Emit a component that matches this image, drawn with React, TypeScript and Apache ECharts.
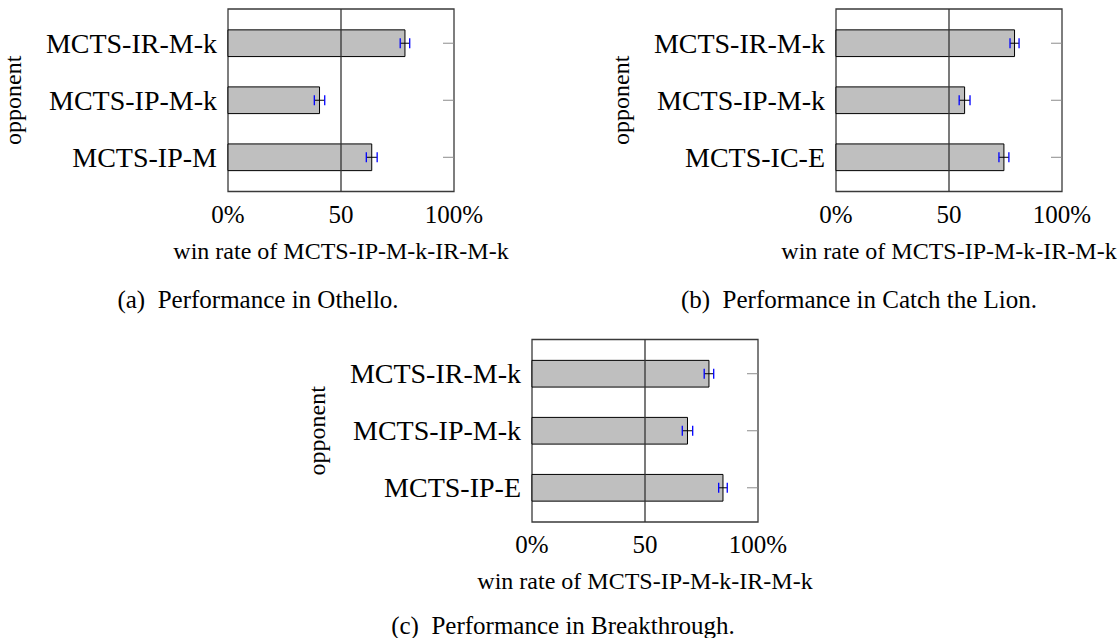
import React, { useEffect, useRef } from "react";
import * as echarts from "echarts";

// ---- data ----
const othelloOpponents = ["MCTS-IR-M-k", "MCTS-IP-M-k", "MCTS-IP-M"];
const othelloWinRate = [78.3, 40.5, 63.6];
const othelloError = [2.1, 2.3, 2.4];

const lionOpponents = ["MCTS-IR-M-k", "MCTS-IP-M-k", "MCTS-IC-E"];
const lionWinRate = [79.0, 56.9, 74.3];
const lionError = [2.0, 2.4, 2.2];

const breakOpponents = ["MCTS-IR-M-k", "MCTS-IP-M-k", "MCTS-IP-E"];
const breakWinRate = [78.3, 68.8, 84.5];
const breakError = [2.1, 2.3, 1.9];

const xTickLabels = ["0%", "50", "100%"];
const xAxisTitle = "win rate of MCTS-IP-M-k-IR-M-k";
const yAxisTitle = "opponent";
const captions = [
  "(a)\u00a0\u00a0Performance in Othello.",
  "(b)\u00a0\u00a0Performance in Catch the Lion.",
  "(c)\u00a0\u00a0Performance in Breakthrough.",
];
const thresholdValue = [50];

const FONT = "Liberation Serif";

export default function App() {
  const ref = useRef<HTMLDivElement>(null);

  useEffect(() => {
    if (!ref.current) return;
    const chart = echarts.init(ref.current, undefined, { renderer: "svg" });

    const panels = [
      { cats: othelloOpponents, vals: othelloWinRate, errs: othelloError, grid: { left: 228, top: 9, width: 226, height: 182.5 }, cap: { x: 258, y: 299 } },
      { cats: lionOpponents, vals: lionWinRate, errs: lionError, grid: { left: 836, top: 9, width: 226, height: 182.5 }, cap: { x: 859, y: 299 } },
      { cats: breakOpponents, vals: breakWinRate, errs: breakError, grid: { left: 532, top: 339.5, width: 226, height: 182.5 }, cap: { x: 563, y: 625 } },
    ];

    const barH = 0.468;

    const grids: any[] = [];
    const xAxes: any[] = [];
    const yAxes: any[] = [];
    const series: any[] = [];

    panels.forEach((p, gi) => {
      grids.push({
        ...p.grid,
        show: true,
        borderColor: "#3a3a3a",
        borderWidth: 1.3,
        backgroundColor: "transparent",
        containLabel: false,
      });
      xAxes.push({
        type: "value",
        gridIndex: gi,
        min: 0,
        max: 100,
        interval: 50,
        axisLine: { show: false },
        axisTick: { show: false },
        splitLine: { show: false },
        axisLabel: {
          margin: 10,
          fontSize: 25,
          fontFamily: FONT,
          color: "#000",
          formatter: (v: number) => xTickLabels[Math.round(v / 50)] ?? "",
        },
        name: xAxisTitle,
        nameLocation: "middle",
        nameGap: 47,
        nameTextStyle: { fontSize: 24, fontFamily: FONT, color: "#000" },
      });
      const cats = p.cats;
      yAxes.push({
        type: "value",
        gridIndex: gi,
        min: -0.6,
        max: 2.6,
        interval: 0.2,
        inverse: true,
        axisLine: { show: false },
        axisTick: { show: false },
        splitLine: { show: false },
        axisLabel: {
          margin: 11,
          fontSize: 28,
          fontFamily: FONT,
          color: "#000",
          formatter: (v: number) => {
            const r = Math.round(v);
            if (Math.abs(v - r) < 1e-6 && r >= 0 && r < cats.length) return cats[r];
            return "";
          },
        },
        name: yAxisTitle,
        nameLocation: "middle",
        nameRotate: 90,
        nameGap: 203,
        nameTextStyle: { fontSize: 24, fontFamily: FONT, color: "#000" },
      });
      series.push({
        type: "custom",
        xAxisIndex: gi,
        yAxisIndex: gi,
        z: 2,
        encode: { x: 0, y: 1 },
        data: p.vals.map((v, i) => [v, i, p.errs[i]]),
        renderItem: (params: any, api: any) => {
          const v = api.value(0);
          const i = api.value(1);
          const e = api.value(2);
          const s = api.coord([0, i]);
          const en = api.coord([v, i]);
          const h = api.size([0, barH])[1];
          const lo = api.coord([v - e, i]);
          const hi = api.coord([v + e, i]);
          const r = api.coord([100, i]);
          const capH = 5;
          return {
            type: "group",
            children: [
              {
                type: "line",
                shape: { x1: r[0] - 11, y1: r[1], x2: r[0], y2: r[1] },
                style: { stroke: "#8c8c8c", lineWidth: 1 },
              },
              {
                type: "rect",
                shape: { x: s[0], y: s[1] - h / 2, width: en[0] - s[0], height: h },
                style: { fill: "#bfbfbf", stroke: "#000", lineWidth: 1 },
              },
              {
                type: "line",
                shape: { x1: lo[0], y1: lo[1], x2: hi[0], y2: hi[1] },
                style: { stroke: "#000", lineWidth: 1 },
                z2: 10,
              },
              {
                type: "line",
                shape: { x1: lo[0], y1: lo[1] - capH, x2: lo[0], y2: lo[1] + capH },
                style: { stroke: "#0000ff", lineWidth: 1.3 },
                z2: 11,
              },
              {
                type: "line",
                shape: { x1: hi[0], y1: hi[1] - capH, x2: hi[0], y2: hi[1] + capH },
                style: { stroke: "#0000ff", lineWidth: 1.3 },
                z2: 11,
              },
            ],
          };
        },
      });
      series.push({
        type: "custom",
        xAxisIndex: gi,
        yAxisIndex: gi,
        z: 3,
        encode: { x: 0 },
        data: thresholdValue.map((v) => [v]),
        renderItem: (params: any, api: any) => {
          const v = api.value(0);
          const a = api.coord([v, -0.6]);
          const b = api.coord([v, 2.6]);
          return {
            type: "line",
            shape: { x1: a[0], y1: a[1], x2: b[0], y2: b[1] },
            style: { stroke: "#333", lineWidth: 1.3 },
          };
        },
      });
    });

    const graphics = panels.map((p, gi) => ({
      type: "text",
      x: p.cap.x,
      y: p.cap.y,
      style: {
        text: captions[gi],
        fontSize: 25,
        fontFamily: FONT,
        fill: "#000",
        align: "center",
        verticalAlign: "middle",
        textAlign: "center",
        textVerticalAlign: "middle",
      },
    }));

    chart.setOption({
      animation: false,
      backgroundColor: "#fff",
      textStyle: { fontFamily: FONT },
      grid: grids,
      xAxis: xAxes,
      yAxis: yAxes,
      series,
      graphic: graphics,
    });

    return () => chart.dispose();
  }, []);

  return (
    <div
      ref={ref}
      style={{ position: "absolute", left: 0, top: 0, width: 1119, height: 638, background: "#fff" }}
    />
  );
}
